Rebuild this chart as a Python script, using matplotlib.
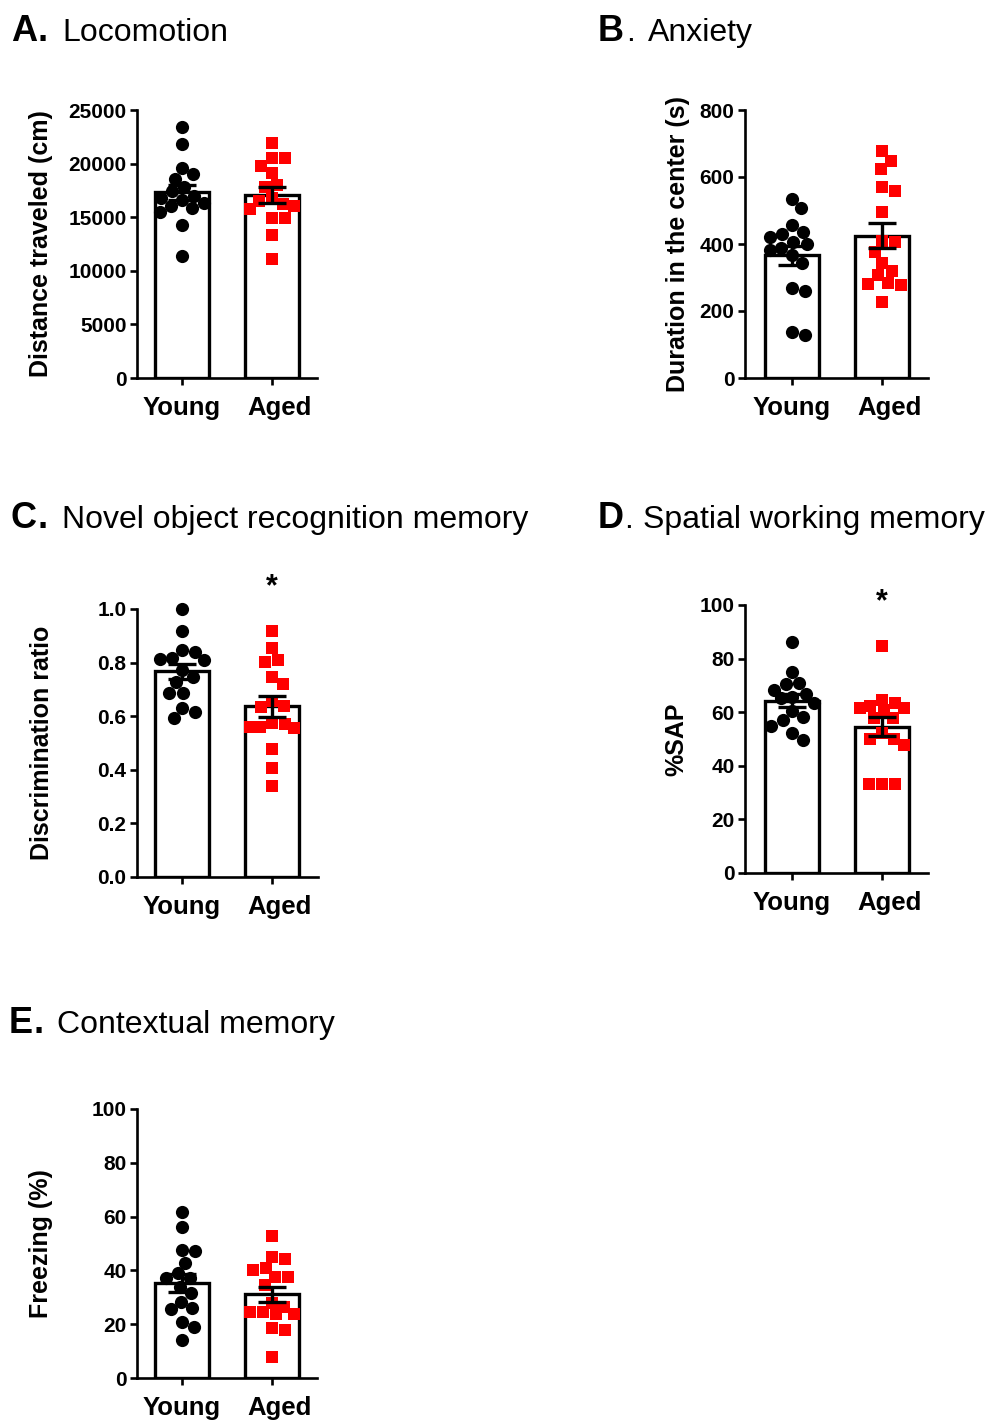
import numpy as np
import matplotlib
matplotlib.use("Agg")
import matplotlib.pyplot as plt
import matplotlib.transforms as mtransforms

plt.rcParams['font.family'] = ['Liberation Sans', 'DejaVu Sans']

W, H = 989, 1420
groups = ['Young', 'Aged']

# A. Locomotion - distance traveled (cm)
loco_young = [23400, 21800, 19600, 19000, 18600, 17800, 17400, 17000, 16800,
              16600, 16300, 16000, 15900, 15500, 14300, 11400]
loco_aged = [21900, 20500, 20500, 19800, 19100, 18000, 17800, 16800, 16500,
             16200, 16000, 15800, 14900, 14900, 13300, 11100]
loco_ticks = [0, 5000, 10000, 15000, 20000, 25000]

# B. Anxiety - duration in the center (s)
anx_young = [533, 506, 456, 437, 430, 420, 407, 400, 389, 382, 366, 342,
             268, 260, 137, 128]
anx_aged = [678, 649, 624, 569, 559, 495, 410, 405, 377, 344, 320, 307,
            283, 278, 281, 226]
anx_ticks = [0, 200, 400, 600, 800]

# C. Novel object recognition - discrimination ratio
nor_young = [1.0, 0.917, 0.847, 0.841, 0.812, 0.816, 0.81, 0.772, 0.745,
             0.729, 0.688, 0.688, 0.63, 0.617, 0.592]
nor_aged = [0.919, 0.853, 0.801, 0.81, 0.747, 0.719, 0.658, 0.633, 0.638,
            0.57, 0.56, 0.555, 0.56, 0.575, 0.476, 0.408, 0.34]
nor_ticks = [0.0, 0.2, 0.4, 0.6, 0.8, 1.0]

# D. Spatial working memory - %SAP
sap_young = [86.3, 74.9, 70.8, 70.5, 68.3, 66.8, 65.8, 65.2, 63.3, 60.6,
             58.3, 57.1, 54.9, 52.3, 49.6]
sap_aged = [84.7, 64.5, 63.5, 62.5, 61.6, 61.6, 61.0, 57.8, 57.8, 52.1,
            49.9, 47.8, 50.0, 33.2, 33.2, 33.2]
sap_ticks = [0, 20, 40, 60, 80, 100]

# E. Contextual memory - freezing (%)
frz_young = [61.8, 56.2, 47.6, 47.2, 42.9, 38.9, 37.1, 37.0, 34.0, 31.5,
             28.4, 25.5, 25.9, 20.7, 19.1, 14.1]
frz_aged = [52.9, 44.2, 45.0, 40.1, 40.8, 37.5, 37.5, 34.6, 26.4, 28.0,
            23.8, 23.8, 24.5, 24.5, 18.6, 17.8, 7.9]
frz_ticks = [0, 20, 40, 60, 80, 100]

fig = plt.figure(figsize=(W / 100, H / 100), dpi=100)


def px_axes(left, top, w, h):
    return fig.add_axes([left / W, 1 - (top + h) / H, w / W, h / H])


def swarm(ax, x0, values, diam, maxw=22):
    # beeswarm in pixel space, limited width; returns x positions in data units
    ys = ax.transData.transform(np.column_stack([np.zeros(len(values)), values]))[:, 1]
    ppu = ax.transData.transform((1, 0))[0] - ax.transData.transform((0, 0))[0]
    order = np.argsort(-np.asarray(values), kind='stable')
    placed = []
    xs = np.zeros(len(values))
    for i in order:
        y = ys[i]
        cands = [0.0]
        for px, py in placed:
            dy = abs(py - y)
            if dy < diam:
                dx = np.sqrt(diam ** 2 - dy ** 2)
                cands += [px + dx, px - dx]
        cands = [c for c in cands if abs(c) <= maxw] + [maxw, -maxw, maxw / 2, -maxw / 2]
        cands.sort(key=abs)

        def mind(c):
            if not placed:
                return np.inf
            return min(np.hypot(c - px, y - py) for px, py in placed)

        ok = [c for c in cands if mind(c) >= diam - 1e-6]
        xs[i] = ok[0] if ok else max(cands, key=mind)
        placed.append((xs[i], y))
    return x0 + xs / ppu


def draw_panel(ax, young, aged, ticks, ylabel, label_x, fmt, xlim):
    ax.set_xlim(*xlim)
    ax.set_ylim(ticks[0], ticks[-1])
    for i, (vals, color, marker, ms) in enumerate([(young, 'black', 'o', 9.5),
                                                  (aged, '#ff0000', 's', 9)]):
        vals = np.asarray(vals, dtype=float)
        mean = vals.mean()
        sem = vals.std(ddof=1) / np.sqrt(len(vals))
        ax.bar(i, mean, width=0.61, facecolor='white', edgecolor='black',
               linewidth=2.4, zorder=1)
        xs = swarm(ax, i, vals, 13)
        ax.plot(xs, vals, linestyle='none', marker=marker, color=color,
                markersize=ms, markeredgewidth=0, zorder=2, clip_on=False)
        ax.errorbar(i, mean, yerr=sem, color='black', capsize=10,
                    elinewidth=2.4, capthick=2.4, zorder=3)
    for s in ['top', 'right']:
        ax.spines[s].set_visible(False)
    for s in ['left', 'bottom']:
        ax.spines[s].set_linewidth(1.9)
    ax.set_xticks([0, 1])
    ax.set_xticklabels(groups, fontsize=18.5, fontweight='bold')
    ax.set_yticks(ticks)
    ax.set_yticklabels([fmt.format(t) for t in ticks], fontsize=15, fontweight='bold')
    ax.tick_params(width=1.9, length=5, pad=2.5)
    ax.tick_params(axis='x', pad=8)
    # the "Aged" label sits a little right of its tick in the original
    lab = ax.xaxis.get_major_ticks()[1].label1
    lab.set_transform(lab.get_transform() +
                      mtransforms.ScaledTranslation(8 / 100, 0, fig.dpi_scale_trans))
    ax.set_ylabel(ylabel, fontsize=18, fontweight='bold')
    ax.yaxis.set_label_coords(label_x, 0.5)


axA = px_axes(137, 110, 180, 268)
draw_panel(axA, loco_young, loco_aged, loco_ticks, 'Distance traveled (cm)',
           -0.467, '{:d}', (-0.5, 1.5))

axB = px_axes(745, 110, 183, 268)
draw_panel(axB, anx_young, anx_aged, anx_ticks, 'Duration in the center (s)',
           -0.30, '{:d}', (-0.522, 1.511))

axC = px_axes(137, 609, 181, 268)
draw_panel(axC, nor_young, nor_aged, nor_ticks, 'Discrimination ratio',
           -0.456, '{:.1f}', (-0.5, 1.511))

axD = px_axes(745, 605, 183, 268)
draw_panel(axD, sap_young, sap_aged, sap_ticks, '%SAP',
           -0.31, '{:d}', (-0.522, 1.511))

axE = px_axes(137, 1109, 180, 269)
draw_panel(axE, frz_young, frz_aged, frz_ticks, 'Freezing (%)',
           -0.467, '{:d}', (-0.5, 1.5))

# significance stars
axC.text(1, 1.08, '*', ha='center', va='center', fontsize=22, fontweight='bold',
         clip_on=False)
axD.text(1, 101, '*', ha='center', va='center', fontsize=22, fontweight='bold',
         clip_on=False)


def title(x_letter, x_dot, x_text, baseline, letter, dot_bold, text):
    y = 1 - baseline / H
    fig.text(x_letter / W, y, letter, fontsize=26, fontweight='bold', va='baseline')
    fig.text(x_dot / W, y, '.', fontsize=26 if dot_bold else 23,
             fontweight='bold' if dot_bold else 'normal', va='baseline')
    fig.text(x_text / W, y, text, fontsize=23, va='baseline')


title(11, 38, 62, 41, 'A', True, 'Locomotion')
title(598, 626, 648, 41, 'B', False, 'Anxiety')
title(10, 38, 62, 528, 'C', True, 'Novel object recognition memory')
title(598, 624, 643, 528, 'D', False, 'Spatial working memory')
title(9, 34, 57, 1033, 'E', True, 'Contextual memory')

fig.savefig('out.png', dpi=100)
